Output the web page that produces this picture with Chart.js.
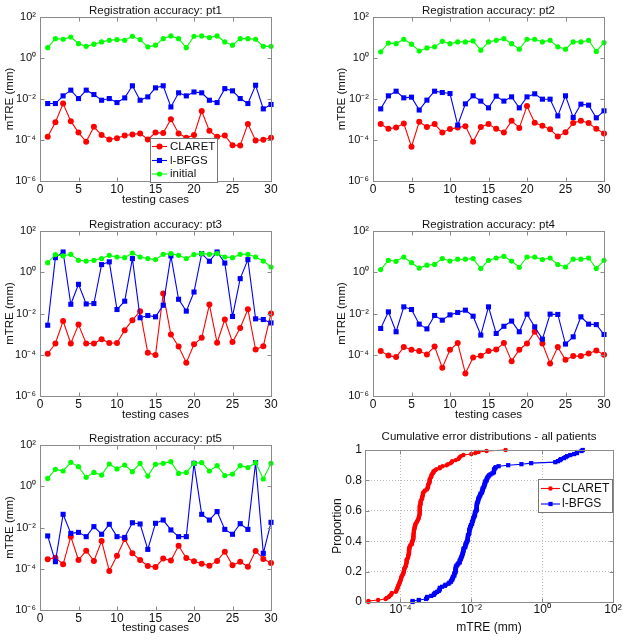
<!DOCTYPE html>
<html><head><meta charset="utf-8">
<script src="https://cdn.jsdelivr.net/npm/chart.js@4.4.1/dist/chart.umd.min.js"></script>
<style>
html,body{margin:0;padding:0;background:#fff;}
body{width:627px;height:641px;position:relative;overflow:hidden;}
canvas{position:absolute;display:block;}
</style></head><body>
<canvas id="c1" width="313" height="210" style="left:0;top:0"></canvas>
<canvas id="c2" width="294" height="210" style="left:333px;top:0"></canvas>
<canvas id="c3" width="313" height="210" style="left:0;top:214px"></canvas>
<canvas id="c4" width="294" height="210" style="left:333px;top:214px"></canvas>
<canvas id="c5" width="313" height="213" style="left:0;top:428px"></canvas>
<canvas id="c6" width="314" height="213" style="left:313px;top:428px"></canvas>
<script>
// ---------------- data ----------------
const cases = [1,2,3,4,5,6,7,8,9,10,11,12,13,14,15,16,17,18,19,20,21,22,23,24,25,26,27,28,29,30];
const seriesNames = ['CLARET', 'l-BFGS', 'initial'];

const claret_pt1 = [1.43e-4,7.4e-4,6.0e-3,8.3e-4,2.3e-4,8.2e-5,4.4e-4,1.73e-4,1.06e-4,1.23e-4,1.66e-4,1.86e-4,2.1e-4,1.06e-4,2.3e-4,2.2e-4,1.04e-3,2.1e-4,1.28e-4,1.73e-4,2.6e-3,2.8e-4,1.43e-4,1.66e-4,5.6e-5,5.4e-5,6.1e-4,9.5e-5,1.02e-4,1.28e-4];
const lbfgs_pt1 = [6.0e-3,6.0e-3,1.42e-2,2.7e-2,1.05e-2,2.7e-2,1.65e-2,8.7e-3,1.05e-2,6.7e-3,1.13e-2,4.4e-2,8.7e-3,1.27e-2,3.5e-2,4.4e-2,4.1e-3,2.0e-2,1.42e-2,2.2e-2,2.0e-2,8.7e-3,6.7e-3,3.2e-2,2.5e-2,1.05e-2,6.0e-3,4.7e-2,3.3e-3,5.4e-3];
const initial_pt1 = [3.2,8.8,8.2,10.6,5.0,3.7,4.7,6.1,7.3,7.9,7.3,11.5,7.9,3.5,4.2,8.8,11.9,8.8,3.2,11.5,11.9,9.9,11.9,6.1,4.2,8.8,8.8,8.2,3.7,3.7];

const claret_pt2 = [6.0e-4,3.5e-4,4.1e-4,6.4e-4,4.7e-5,7.7e-4,4.3e-4,6.0e-4,2.34e-4,3.4e-4,4.1e-4,4.75e-4,8.2e-5,4.3e-4,6.0e-4,3.5e-4,2.34e-4,8.6e-4,3.9e-4,4.5e-3,6.9e-4,4.9e-4,3.3e-4,1.49e-4,2.4e-4,6.7e-4,8.6e-4,6.7e-4,3.5e-4,2.1e-4];
const lbfgs_pt2 = [3.3e-3,1.43e-2,2.4e-2,1.14e-2,1.23e-2,2.9e-3,8.8e-3,2.4e-2,2.07e-2,1.85e-2,5.3e-4,5.8e-3,1.43e-2,7.9e-3,3.7e-3,1.37e-2,7.9e-3,1.27e-2,3.7e-3,1.27e-2,1.79e-2,9.8e-3,9.8e-3,1.5e-3,1.43e-2,1.26e-3,5.6e-3,5.0e-3,1.21e-3,2.65e-3];
const initial_pt2 = [2.0,5.4,5.0,8.2,4.7,2.2,3.1,3.5,6.5,5.0,6.1,6.1,6.8,2.4,6.1,7.3,8.8,5.0,2.7,8.2,8.2,6.1,7.3,3.5,2.7,6.1,6.1,7.3,2.1,5.6];

const claret_pt3 = [1.12e-4,3.5e-4,4.3e-3,3.5e-4,2.9e-3,3.5e-4,3.5e-4,5.7e-4,3.7e-4,3.7e-4,1.56e-3,4.75e-3,1.3e-2,1.25e-4,9.6e-5,9.3e-2,9.6e-4,2.5e-4,4.1e-5,3.2e-4,6.6e-4,2.7e-2,3.8e-4,5.1e-3,4.1e-4,2.0e-3,1.6e-2,1.8e-4,2.6e-4,1.0e-2];
const lbfgs_pt3 = [2.7e-3,5.1,9.6,2.8e-2,0.26,2.9e-2,3.05e-2,2.35,3.2,1.56e-2,3.95e-2,4.6,6.2e-3,8.0e-3,6.9e-3,2.5e-2,6.2,4.9e-2,1.3e-2,0.11,8.0,3.4,9.6,2.8,7.2e-3,0.49,4.1,5.5e-3,5.1e-3,3.5e-3];
const initial_pt3 = [2.9,7.2,6.2,7.4,3.8,3.5,3.8,4.6,6.6,5.5,5.1,8.6,5.5,4.6,4.1,7.4,8.0,6.6,4.6,7.2,8.0,7.4,8.0,5.5,5.1,7.4,7.4,5.5,3.5,1.8];

const claret_pt4 = [1.5e-4,9.3e-5,7.7e-5,2.35e-4,1.75e-4,1.5e-4,1.04e-4,2.5e-4,2.35e-5,1.75e-4,3.7e-4,1.25e-5,7.4e-5,9.0e-5,1.5e-4,1.8e-4,3.7e-4,4.9e-5,1.75e-4,3.5e-4,1.3e-3,3.5e-4,3.8e-5,2.35e-4,5.7e-5,8.6e-5,8.6e-5,1.16e-4,1.6e-4,1.0e-4];
const lbfgs_pt4 = [1.88e-3,1.2e-2,1.3e-3,2.1e-2,1.56e-2,3.05e-3,1.8e-3,8.0e-3,4.75e-3,8.6e-3,1.12e-2,1.45e-2,7.4e-3,9.0e-4,2.1e-2,1.08e-3,2.4e-3,4.3e-3,1.3e-3,9.3e-3,2.26e-3,5.7e-4,9.3e-3,9.0e-3,3.3e-4,7.4e-4,6.9e-3,3.05e-3,2.9e-3,9.6e-4];
const initial_pt4 = [1.35,3.8,3.4,5.5,2.9,1.6,2.2,2.4,4.6,3.5,4.3,4.3,4.6,1.5,3.8,4.9,5.9,3.5,1.75,5.5,5.5,4.1,4.9,2.35,1.8,4.3,4.3,4.9,1.5,3.8];

const claret_pt5 = [2.9e-4,3.45e-4,1.64e-4,3.6e-3,2.65e-4,7.5e-4,2.4e-4,2.2e-3,7.8e-5,4.3e-4,2.8e-3,5.6e-4,2.65e-4,1.36e-4,1.2e-4,3.1e-4,2.5e-4,1.3e-3,3.3e-4,2.3e-4,1.76e-4,1.4e-4,2.4e-4,6.7e-4,1.47e-4,2.2e-4,1.26e-4,7.3e-4,3.0e-4,1.9e-4];
const lbfgs_pt5 = [3.9e-3,2.2e-4,4.35e-2,5.2e-3,5.8e-3,3.6e-3,1.1e-2,4.7e-3,1.43e-2,3.6e-3,3.3e-3,1.7e-2,1.48e-2,8.7e-4,1.6e-2,2.3e-2,7.6e-3,3.6e-3,3.6e-3,12.9,4.35e-2,2.3e-2,5.9e-2,8.1e-3,4.7e-3,1.53e-2,8.1e-3,14,5.6e-4,1.78e-2];
const initial_pt5 = [2.4,6.6,5.5,14.4,8.9,2.7,4.7,3.5,12.0,6.9,10.7,5.1,12.9,3.1,11.6,12.9,15.6,4.2,4.7,12.9,13.9,5.5,10.0,3.3,3.9,10.0,8.0,13.9,2.25,12.9];

const xTicksCases = [0,5,10,15,20,25,30];
const yTicksLog = [1e-6,1e-4,1e-2,1,1e2];
const xTicksCdf = [1e-4,1e-2,1,1e2];
const yTicksCdf = [0,0.2,0.4,0.6,0.8,1];

// ---------------- styling ----------------
const F = "'Liberation Sans', Arial, Helvetica, sans-serif";
const TXT = '#111';
const FRAME = '#8a8a8a';
const RED = '#ff0000', BLUE = '#0000ff', GREEN = '#00ff00';
const SUP = {'0':'⁰','1':'¹','2':'²','3':'³','4':'⁴','5':'⁵','6':'⁶','7':'⁷','8':'⁸','9':'⁹','-':'⁻'};
function powLabel(v){ const e = Math.round(Math.log10(v)); return '10' + String(e).split('').map(c => SUP[c]).join(''); }

function framePlugin(){
  return { id:'frame', afterDatasetsDraw(chart){
    const {ctx, chartArea:a, scales} = chart;
    const l = Math.round(a.left)+0.5, t = Math.round(a.top)+0.5, r = Math.round(a.right)+0.5, b = Math.round(a.bottom)+0.5;
    ctx.save();
    ctx.strokeStyle = FRAME; ctx.lineWidth = 1;
    ctx.strokeRect(l, t, r-l, b-t);
    ctx.beginPath();
    scales.x.ticks.forEach(tk => { const p = Math.round(scales.x.getPixelForValue(tk.value))+0.5; ctx.moveTo(p,b); ctx.lineTo(p,b-4); ctx.moveTo(p,t); ctx.lineTo(p,t+4); });
    scales.y.ticks.forEach(tk => { const p = Math.round(scales.y.getPixelForValue(tk.value))+0.5; ctx.moveTo(l,p); ctx.lineTo(l+4,p); ctx.moveTo(r,p); ctx.lineTo(r-4,p); });
    ctx.stroke();
    ctx.restore();
  }};
}
function legendPlugin(cfg){
  return { id:'boxLegend', afterDatasetsDraw(chart){
    const ctx = chart.ctx; const [x,y,w,h] = cfg.box;
    ctx.save();
    ctx.fillStyle = '#fff'; ctx.fillRect(x, y, w, h);
    ctx.strokeStyle = '#777'; ctx.lineWidth = 1; ctx.strokeRect(x+0.5, y+0.5, w, h);
    ctx.font = cfg.font; ctx.textBaseline = 'middle'; ctx.textAlign = 'left';
    cfg.items.forEach((di, k) => {
      const d = chart.data.datasets[di]; const ry = cfg.rows[k];
      ctx.strokeStyle = d.borderColor; ctx.lineWidth = d.borderWidth;
      ctx.beginPath(); ctx.moveTo(cfg.x0, ry); ctx.lineTo(cfg.x1, ry); ctx.stroke();
      ctx.fillStyle = d.backgroundColor;
      Chart.helpers.drawPoint(ctx, {pointStyle:d.pointStyle, radius:d.pointRadius, borderWidth:0, rotation:0}, (cfg.x0+cfg.x1)/2, ry);
      ctx.fillStyle = TXT; ctx.fillText(d.label, cfg.tx, ry);
    });
    ctx.restore();
  }};
}

function ds(label, values, xs, color, style, r, order){
  return { label, data: values.map((v,i) => ({x: xs[i], y: v})), borderColor: color, backgroundColor: color,
    borderWidth: 1.1, pointStyle: style, pointRadius: r, pointHoverRadius: r, pointBorderWidth: 0,
    tension: 0, clip: false, order };
}

function linePanel(id, title, claret, lbfgs, init, g, legend){
  const fs = 11.5;
  const plugins = [framePlugin()];
  if (legend) plugins.push(legendPlugin(legend));
  new Chart(document.getElementById(id), {
    type: 'line',
    data: { datasets: [
      ds(seriesNames[0], claret, cases, RED, 'circle', 3, 2),
      ds(seriesNames[1], lbfgs, cases, BLUE, 'rect', 3.6, 1),
      ds(seriesNames[2], init, cases, GREEN, 'circle', 2.6, 0)
    ]},
    options: {
      responsive: false, animation: false, events: [],
      layout: { padding: { left: 0, top: 0, right: g.W - g.R, bottom: 0 } },
      plugins: {
        legend: { display: false }, tooltip: { enabled: false },
        title: { display: true, text: title, color: TXT, fullSize: false,
          font: { family: F, size: fs, weight: 'normal', lineHeight: 1 },
          padding: { top: g.tc - fs/2, bottom: g.T - g.tc - fs/2 } }
      },
      scales: {
        x: { type: 'linear', min: 0, max: 30,
          afterBuildTicks: s => { s.ticks = xTicksCases.map(v => ({value: v})); },
          afterFit: s => { s.height = g.H - g.B; },
          ticks: { font: { family: F, size: 12 }, color: TXT, padding: 1, autoSkip: false, maxRotation: 0 },
          grid: { display: false, drawTicks: false }, border: { display: false },
          title: { display: true, text: 'testing cases', color: TXT, font: { family: F, size: fs, lineHeight: 1 }, padding: { top: 0, bottom: g.xtb } } },
        y: { type: 'logarithmic', min: 1e-6, max: 1e2,
          afterBuildTicks: s => { s.ticks = yTicksLog.map(v => ({value: v})); },
          afterFit: s => { s.width = g.L; },
          ticks: { font: { family: F, size: 11 }, color: TXT, padding: 4, autoSkip: false, callback: v => powLabel(v) },
          grid: { display: false, drawTicks: false }, border: { display: false },
          title: { display: true, text: 'mTRE (mm)', color: TXT, font: { family: F, size: fs, lineHeight: 1 }, padding: { top: g.ytc - fs/2, bottom: 0 } } }
      }
    },
    plugins
  });
}

const gLeft  = { W: 313, H: 210, L: 40, T: 17, R: 271, B: 181, tc: 11, ytc: 10, xtb: 4.5 };
const gRight = { W: 294, H: 210, L: 40, T: 17, R: 271, B: 181, tc: 11, ytc: 9, xtb: 4.5 };

linePanel('c1', 'Registration accuracy: pt1', claret_pt1, lbfgs_pt1, initial_pt1, gLeft,
  { box: [150, 138, 67, 44], rows: [146.5, 160.5, 174], items: [0,1,2], x0: 152, x1: 167, tx: 170, font: "11.5px " + F });
linePanel('c2', 'Registration accuracy: pt2', claret_pt2, lbfgs_pt2, initial_pt2, gRight);
linePanel('c3', 'Registration accuracy: pt3', claret_pt3, lbfgs_pt3, initial_pt3, Object.assign({}, gLeft, { B: 182, xtb: 3.5 }));
linePanel('c4', 'Registration accuracy: pt4', claret_pt4, lbfgs_pt4, initial_pt4, Object.assign({}, gRight, { B: 182, xtb: 3.5 }));
linePanel('c5', 'Registration accuracy: pt5', claret_pt5, lbfgs_pt5, initial_pt5, Object.assign({}, gLeft, { H: 213, B: 182, xtb: 7 }));

// ---------------- cumulative distribution ----------------
function ecdf(vals){
  const s = vals.slice().sort((a,b) => a-b); const n = s.length;
  const pts = [{x: s[0], y: 0}];
  s.forEach((v,i) => pts.push({x: v, y: (i+1)/n}));
  return pts;
}
const claretAll = [].concat(claret_pt1, claret_pt2, claret_pt3, claret_pt4, claret_pt5);
const lbfgsAll = [].concat(lbfgs_pt1, lbfgs_pt2, lbfgs_pt3, lbfgs_pt4, lbfgs_pt5);

(function(){
  const g = { W: 314, H: 213, L: 52, T: 22, R: 300, B: 174, tc: 8.7 };
  const fs = 11.5;
  new Chart(document.getElementById('c6'), {
    type: 'line',
    data: { datasets: [
      { label: seriesNames[0], data: ecdf(claretAll), borderColor: RED, backgroundColor: RED, borderWidth: 1.1,
        pointStyle: 'circle', pointRadius: 2.2, pointHoverRadius: 2.2, pointBorderWidth: 0, clip: false, order: 0 },
      { label: seriesNames[1], data: ecdf(lbfgsAll), borderColor: BLUE, backgroundColor: BLUE, borderWidth: 1.1,
        pointStyle: 'rect', pointRadius: 3, pointHoverRadius: 3, pointBorderWidth: 0, clip: false, order: 1 }
    ]},
    options: {
      responsive: false, animation: false, events: [],
      layout: { padding: { left: 0, top: 0, right: g.W - g.R, bottom: 0 } },
      plugins: {
        legend: { display: false }, tooltip: { enabled: false },
        title: { display: true, text: 'Cumulative error distributions - all patients', color: TXT, fullSize: false,
          font: { family: F, size: fs, weight: 'normal', lineHeight: 1 },
          padding: { top: g.tc - fs/2, bottom: g.T - g.tc - fs/2 } }
      },
      scales: {
        x: { type: 'logarithmic', min: 1e-5, max: 1e2,
          afterBuildTicks: s => { s.ticks = xTicksCdf.map(v => ({value: v})); },
          afterFit: s => { s.height = g.H - g.B; },
          ticks: { font: { family: F, size: 12 }, color: TXT, padding: 0, autoSkip: false, maxRotation: 0, callback: v => powLabel(v) },
          grid: { display: true, drawTicks: false, color: '#bdbdbd', lineWidth: 1 }, border: { display: false, dash: [1,2] },
          title: { display: true, text: 'mTRE (mm)', color: TXT, font: { family: F, size: 12, lineHeight: 1 }, padding: { top: 0, bottom: 7 } } },
        y: { type: 'linear', min: 0, max: 1,
          afterBuildTicks: s => { s.ticks = yTicksCdf.map(v => ({value: v})); },
          afterFit: s => { s.width = g.L; },
          ticks: { font: { family: F, size: 12 }, color: TXT, padding: 3, autoSkip: false, callback: v => String(v) },
          grid: { display: true, drawTicks: false, color: '#bdbdbd', lineWidth: 1 }, border: { display: false, dash: [1,2] },
          title: { display: true, text: 'Proportion', color: TXT, font: { family: F, size: 12, lineHeight: 1 }, padding: { top: 19, bottom: 0 } } }
      }
    },
    plugins: [framePlugin(), legendPlugin({ box: [225, 51, 74, 33], rows: [60.5, 76], items: [0,1], x0: 228, x1: 247, tx: 249, font: "12px " + F })]
  });
})();
</script>
</body></html>
